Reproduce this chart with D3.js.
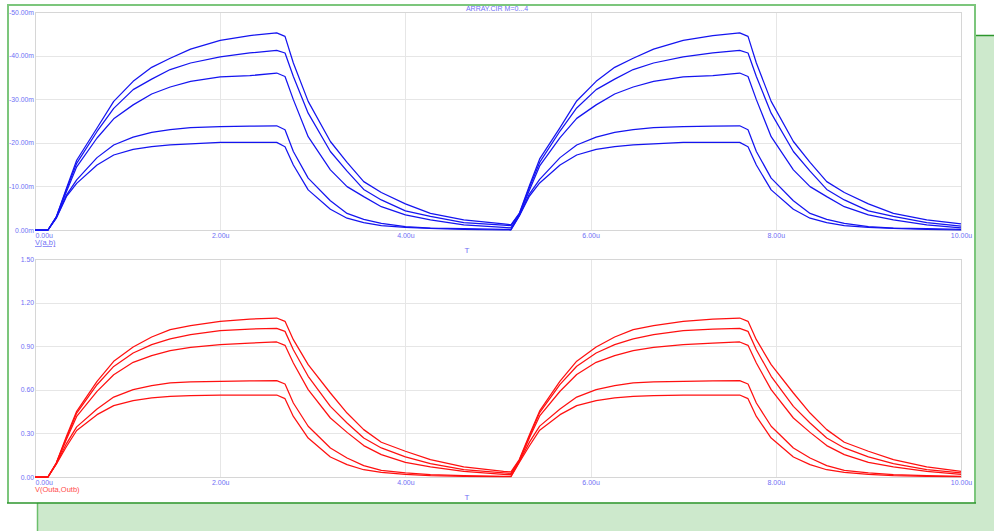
<!DOCTYPE html>
<html>
<head>
<meta charset="utf-8">
<script src="https://cdn.jsdelivr.net/npm/d3@7"></script>
<style>
  html, body { margin: 0; padding: 0; background: #ffffff; }
  svg { display: block; font-family: "Liberation Sans", Arial, sans-serif; }
</style>
</head>
<body>
<svg id="chart" width="994" height="531"></svg>
<script>
// Transient analysis, ARRAY.CIR, parameter M stepped 0...4
const title = "ARRAY.CIR M=0...4";

// Simulation time points (µs)
const time = [0, 0.14, 0.23, 0.34, 0.45, 0.67, 0.85, 1.06, 1.26, 1.46, 1.68, 2.0, 2.32, 2.61, 2.70, 2.79, 2.95, 3.19, 3.37, 3.55, 3.74, 4.0, 4.27, 4.63, 5.06,
              5.14, 5.23, 5.34, 5.45, 5.67, 5.85, 6.06, 6.26, 6.46, 6.68, 7.0, 7.32, 7.61, 7.70, 7.79, 7.95, 8.19, 8.37, 8.55, 8.74, 9.0, 9.27, 9.63, 10.0];

// V(a,b) in mV, one array per step of M
const vab0 = [0, 0, -3.0, -9.6, -16.0, -23.4, -29.5, -34.1, -37.3, -39.4, -41.5, -43.5, -44.6, -45.2, -44.4, -38.3, -29.5, -20.3, -15.5, -11.1, -8.6, -6.0, -3.8, -2.3, -1.4,
              -1.2, -3.8, -10.2, -16.3, -23.5, -29.6, -34.1, -37.3, -39.4, -41.5, -43.5, -44.6, -45.2, -44.4, -38.3, -29.5, -20.3, -15.5, -11.1, -8.6, -6.0, -3.8, -2.3, -1.4];
const vab1 = [0, 0, -3.0, -9.3, -15.3, -22.6, -27.9, -32.2, -34.6, -36.8, -38.3, -39.7, -40.6, -41.2, -40.6, -35.2, -26.8, -18.0, -13.5, -9.3, -6.9, -4.4, -3.1, -1.7, -1.1,
              -1.0, -3.7, -9.8, -15.5, -22.7, -28.0, -32.2, -34.6, -36.8, -38.3, -39.7, -40.6, -41.2, -40.6, -35.2, -26.8, -18.0, -13.5, -9.3, -6.9, -4.4, -3.1, -1.7, -0.9];
const vab2 = [0, 0, -2.9, -8.8, -14.5, -21.1, -25.5, -28.7, -31.2, -32.8, -34.1, -35.1, -35.4, -36.0, -35.2, -29.9, -21.4, -13.8, -9.95, -7.65, -5.35, -3.45, -2.3, -1.15, -0.6,
              -0.5, -3.5, -9.2, -14.7, -21.2, -25.6, -28.7, -31.2, -32.8, -34.1, -35.1, -35.4, -36.0, -35.2, -29.9, -21.4, -13.8, -9.95, -7.65, -5.35, -3.45, -2.3, -1.15, -0.5];
const vab3 = [0, 0, -2.8, -8.0, -11.5, -16.6, -19.5, -21.3, -22.4, -23.0, -23.5, -23.7, -23.8, -23.9, -23.0, -18.0, -11.9, -6.7, -3.8, -2.45, -1.5, -0.77, -0.45, -0.3, -0.15,
              -0.15, -3.3, -8.3, -11.6, -16.6, -19.5, -21.3, -22.4, -23.0, -23.5, -23.7, -23.8, -23.9, -23.0, -18.0, -11.9, -6.7, -3.8, -2.45, -1.5, -0.77, -0.45, -0.3, -0.15];
const vab4 = [0, 0, -2.7, -7.7, -10.7, -14.9, -17.2, -18.5, -19.1, -19.5, -19.75, -20.1, -20.1, -20.1, -19.1, -14.9, -9.2, -4.75, -2.7, -1.7, -1.0, -0.6, -0.35, -0.15, 0,
              0, -3.2, -7.8, -10.8, -14.9, -17.2, -18.5, -19.1, -19.5, -19.75, -20.1, -20.1, -20.1, -19.1, -14.9, -9.2, -4.75, -2.7, -1.7, -1.0, -0.6, -0.35, -0.15, 0];

// V(Outa,Outb) in V, one array per step of M
const vout0 = [0, 0, 0.096, 0.28, 0.452, 0.658, 0.796, 0.894, 0.963, 1.014, 1.041, 1.071, 1.087, 1.094, 1.071, 0.945, 0.773, 0.578, 0.440, 0.326, 0.239, 0.177, 0.119, 0.069, 0.039,
               0.035, 0.12, 0.29, 0.455, 0.66, 0.797, 0.894, 0.963, 1.014, 1.041, 1.071, 1.087, 1.094, 1.071, 0.945, 0.773, 0.578, 0.440, 0.326, 0.239, 0.177, 0.119, 0.069, 0.039];
const vout1 = [0, 0, 0.096, 0.27, 0.44, 0.635, 0.761, 0.853, 0.911, 0.950, 0.979, 1.007, 1.018, 1.023, 1.002, 0.876, 0.693, 0.486, 0.372, 0.268, 0.200, 0.138, 0.092, 0.050, 0.028,
               0.025, 0.115, 0.28, 0.443, 0.637, 0.762, 0.853, 0.911, 0.950, 0.979, 1.007, 1.018, 1.023, 1.002, 0.876, 0.693, 0.486, 0.372, 0.268, 0.200, 0.138, 0.092, 0.050, 0.028];
const vout2 = [0, 0, 0.094, 0.26, 0.417, 0.589, 0.704, 0.789, 0.835, 0.869, 0.892, 0.911, 0.922, 0.929, 0.906, 0.784, 0.601, 0.406, 0.307, 0.216, 0.154, 0.101, 0.069, 0.039, 0.018,
               0.016, 0.11, 0.27, 0.42, 0.59, 0.705, 0.789, 0.835, 0.869, 0.892, 0.911, 0.922, 0.929, 0.906, 0.784, 0.601, 0.406, 0.307, 0.216, 0.154, 0.101, 0.069, 0.039, 0.018];
const vout3 = [0, 0, 0.09, 0.23, 0.345, 0.468, 0.550, 0.601, 0.628, 0.647, 0.654, 0.658, 0.661, 0.663, 0.640, 0.509, 0.349, 0.200, 0.131, 0.078, 0.046, 0.028, 0.016, 0.009, 0.005,
               0.005, 0.105, 0.24, 0.35, 0.468, 0.550, 0.601, 0.628, 0.647, 0.654, 0.658, 0.661, 0.663, 0.640, 0.509, 0.349, 0.200, 0.131, 0.078, 0.046, 0.028, 0.016, 0.009, 0.005];
const vout4 = [0, 0, 0.088, 0.21, 0.32, 0.429, 0.491, 0.525, 0.544, 0.555, 0.560, 0.564, 0.564, 0.564, 0.539, 0.417, 0.268, 0.138, 0.085, 0.050, 0.032, 0.018, 0.010, 0.005, 0.002,
               0.002, 0.10, 0.215, 0.322, 0.429, 0.491, 0.525, 0.544, 0.555, 0.560, 0.564, 0.564, 0.564, 0.539, 0.417, 0.268, 0.138, 0.085, 0.050, 0.032, 0.018, 0.010, 0.005, 0.002];

// Axis ticks
const timeTicks = [0, 2, 4, 6, 8, 10];
const vabTicks = [0, -10, -20, -30, -40, -50];
const voutTicks = [0, 0.3, 0.6, 0.9, 1.2, 1.5];

const vabSeries = [vab0, vab1, vab2, vab3, vab4];
const voutSeries = [vout0, vout1, vout2, vout3, vout4];

const svg = d3.select("#chart");
const labelBlue = "#6f6ff5";
const smallFont = "7px";

// Background panel and plot window
svg.append("rect").attr("x", 37).attr("y", 35).attr("width", 957).attr("height", 496).attr("fill", "#cde9cc");
svg.append("line").attr("x1", 975).attr("x2", 994).attr("y1", 35.5).attr("y2", 35.5).attr("stroke", "#2c962c").attr("stroke-width", 1.5);
svg.append("line").attr("x1", 37.5).attr("x2", 37.5).attr("y1", 503).attr("y2", 531).attr("stroke", "#6cbf6c").attr("stroke-width", 1.5);
svg.append("rect").attr("x", 9).attr("y", 5.5).attr("width", 966).attr("height", 497).attr("fill", "#ffffff");
svg.append("line").attr("x1", 8.5).attr("x2", 976).attr("y1", 5).attr("y2", 5).attr("stroke", "#7cc67c").attr("stroke-width", 2);
svg.append("line").attr("x1", 8).attr("x2", 8).attr("y1", 4).attr("y2", 503).attr("stroke", "#7cc67c").attr("stroke-width", 2);
svg.append("line").attr("x1", 975).attr("x2", 975).attr("y1", 4).attr("y2", 503).attr("stroke", "#7cc67c").attr("stroke-width", 2);
svg.append("line").attr("x1", 7).attr("x2", 976).attr("y1", 503).attr("y2", 503).attr("stroke", "#2c962c").attr("stroke-width", 1.5);

const x = d3.scaleLinear().domain([0, 10]).range([35, 961]);

// Tick text: plain hyphen-minus so the sign stays narrow
const fmtMilli = d => (d < 0 ? "-" : "") + Math.abs(d).toFixed(2) + "m";

function drawPlot(cfg) {
  const y = d3.scaleLinear().domain(cfg.domain).range([cfg.bottom, cfg.top]);
  const g = svg.append("g");

  // grid
  g.selectAll("line.gx").data(cfg.yTicks).join("line")
    .attr("x1", x(0)).attr("x2", x(10))
    .attr("y1", d => Math.round(y(d)) + 0.5).attr("y2", d => Math.round(y(d)) + 0.5)
    .attr("stroke", "#e6e6e6").attr("stroke-width", 1);
  g.selectAll("line.gy").data(timeTicks).join("line")
    .attr("x1", d => Math.round(x(d)) + 0.5).attr("x2", d => Math.round(x(d)) + 0.5)
    .attr("y1", cfg.top).attr("y2", cfg.bottom)
    .attr("stroke", "#e6e6e6").attr("stroke-width", 1);

  // frame
  g.append("rect").attr("x", x(0) + 0.5).attr("y", cfg.top + 0.5)
    .attr("width", x(10) - x(0)).attr("height", cfg.bottom - cfg.top)
    .attr("fill", "none").attr("stroke", "#d6d6d6").attr("stroke-width", 1);

  // y axis labels
  const yAxis = d3.axisLeft(y).tickValues(cfg.yTicks).tickSize(0).tickPadding(1).tickFormat(cfg.fmt);
  const ya = g.append("g").attr("transform", `translate(${x(0)},0)`).call(yAxis);
  ya.select(".domain").remove();
  ya.selectAll("text").attr("fill", labelBlue).attr("font-size", "6.8px")
    .attr("font-family", "Liberation Sans, Arial, sans-serif");

  // x axis labels
  const xAxis = d3.axisBottom(x).tickValues(timeTicks).tickSize(0).tickPadding(0).tickFormat(d => d.toFixed(2) + "u");
  const xa = g.append("g").attr("transform", `translate(0,${cfg.bottom})`).call(xAxis);
  xa.select(".domain").remove();
  xa.selectAll("text").attr("fill", labelBlue).attr("font-size", smallFont).attr("y", 7.5).attr("dy", 0)
    .attr("font-family", "Liberation Sans, Arial, sans-serif")
    .attr("text-anchor", d => d === 0 ? "start" : "middle");

  // traces
  const line = d3.line().x((d, i) => x(time[i])).y(d => y(d));
  g.selectAll("path.trace").data(cfg.series).join("path")
    .attr("class", "trace")
    .attr("d", line)
    .attr("fill", "none").attr("stroke", cfg.color).attr("stroke-width", 1.25)
    .attr("stroke-linejoin", "round");

  // trace label and time axis label
  const lab = g.append("text").attr("x", 35).attr("y", cfg.bottom + 15)
    .attr("fill", cfg.labelColor).attr("font-size", "7.5px").text(cfg.label);
  if (cfg.underline) lab.attr("text-decoration", "underline");
  g.append("text").attr("x", 467).attr("y", cfg.bottom + 23).attr("text-anchor", "middle")
    .attr("fill", labelBlue).attr("font-size", "8px").text("T");
}

drawPlot({
  top: 12, bottom: 230, domain: [0, -50], yTicks: vabTicks,
  fmt: fmtMilli, series: vabSeries, color: "#1414f0",
  label: "V(a,b)", labelColor: labelBlue, underline: true
});
drawPlot({
  top: 259, bottom: 477, domain: [0, 1.5], yTicks: voutTicks,
  fmt: d => d.toFixed(2), series: voutSeries, color: "#ff1010",
  label: "V(Outa,Outb)", labelColor: "#ff4a4a", underline: false
});

svg.append("text").attr("x", 497).attr("y", 10.5).attr("text-anchor", "middle")
  .attr("fill", labelBlue).attr("font-size", smallFont).text(title);
</script>
</body>
</html>
